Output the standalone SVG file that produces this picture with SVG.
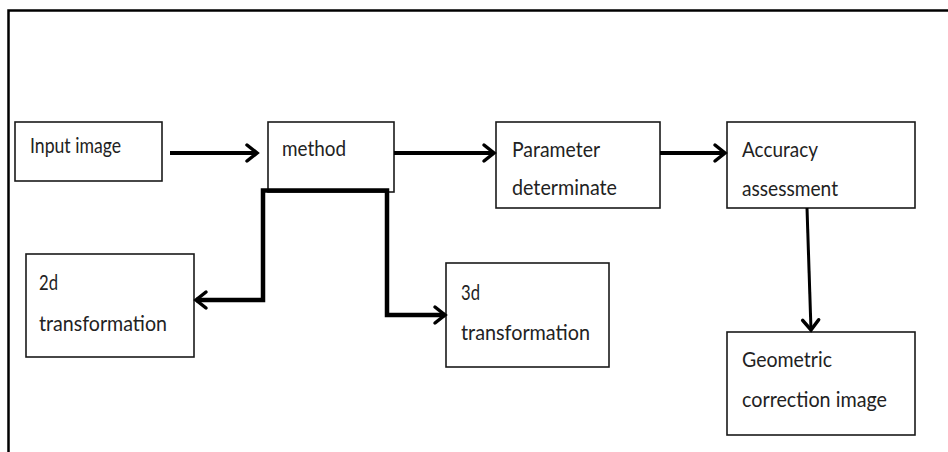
<svg xmlns="http://www.w3.org/2000/svg" width="948" height="452" viewBox="0 0 948 452">
  <style>
    .box { fill: #ffffff; stroke: #1a1a1a; stroke-width: 1.6; }
    .lbl { font-family: Lato, "Open Sans", "Liberation Sans", sans-serif; font-size: 22px; fill: #222222; }
    .conn { fill: none; stroke: #000000; stroke-linejoin: miter; }
    .frame { fill: none; stroke: #000000; stroke-width: 2.5; }
  </style>
  <defs>
    <marker id="arr" markerUnits="userSpaceOnUse" viewBox="0 0 16 22" markerWidth="16" markerHeight="22" refX="13" refY="11" orient="auto-start-reverse">
      <path d="M3,3 L13,11 L3,19" fill="none" stroke="#000" stroke-width="3.5" stroke-linecap="round" stroke-linejoin="miter"/>
    </marker>
  </defs>
  <rect width="948" height="452" fill="#ffffff"/>
  <path class="frame" d="M8.5,452 V10.5 H948"/>

  <g id="input-image">
    <rect class="box" x="15" y="122" width="147" height="59"/>
    <text class="lbl" x="30" y="153" textLength="91" lengthAdjust="spacingAndGlyphs">Input image</text>
  </g>
  <g id="method">
    <rect class="box" x="268" y="122" width="126" height="70"/>
    <text class="lbl" x="282" y="156" textLength="64" lengthAdjust="spacingAndGlyphs">method</text>
  </g>
  <g id="parameter-determinate">
    <rect class="box" x="496" y="122" width="164" height="86"/>
    <text class="lbl" x="512" y="157" textLength="88" lengthAdjust="spacingAndGlyphs">Parameter</text>
    <text class="lbl" x="512" y="195" textLength="105" lengthAdjust="spacingAndGlyphs">determinate</text>
  </g>
  <g id="accuracy-assessment">
    <rect class="box" x="727" y="122" width="188" height="86"/>
    <text class="lbl" x="742" y="157" textLength="76" lengthAdjust="spacingAndGlyphs">Accuracy</text>
    <text class="lbl" x="742" y="196" textLength="96" lengthAdjust="spacingAndGlyphs">assessment</text>
  </g>
  <g id="transformation-2d">
    <rect class="box" x="26" y="254" width="168" height="103"/>
    <text class="lbl" x="39" y="290" textLength="19" lengthAdjust="spacingAndGlyphs">2d</text>
    <text class="lbl" x="39" y="331" textLength="128" lengthAdjust="spacingAndGlyphs">transformation</text>
  </g>
  <g id="transformation-3d">
    <rect class="box" x="446" y="263" width="163" height="104"/>
    <text class="lbl" x="461" y="300" textLength="19" lengthAdjust="spacingAndGlyphs">3d</text>
    <text class="lbl" x="461" y="340" textLength="129" lengthAdjust="spacingAndGlyphs">transformation</text>
  </g>
  <g id="geometric-correction-image">
    <rect class="box" x="727" y="332" width="188" height="103"/>
    <text class="lbl" x="742" y="367" textLength="90" lengthAdjust="spacingAndGlyphs">Geometric</text>
    <text class="lbl" x="742" y="407" textLength="145" lengthAdjust="spacingAndGlyphs">correction image</text>
  </g>

  <g id="connectors">
    <path class="conn" stroke-width="4" d="M170,153 H257" marker-end="url(#arr)"/>
    <path class="conn" stroke-width="4" d="M394,153 H494" marker-end="url(#arr)"/>
    <path class="conn" stroke-width="4" d="M660,153 H725" marker-end="url(#arr)"/>
    <path class="conn" stroke-width="4.5" d="M196,300 H263 V190.5 H387 V315 H445" marker-start="url(#arr)" marker-end="url(#arr)"/>
    <path class="conn" stroke-width="3" d="M807,208 L811,330" marker-end="url(#arr)"/>
  </g>
</svg>
